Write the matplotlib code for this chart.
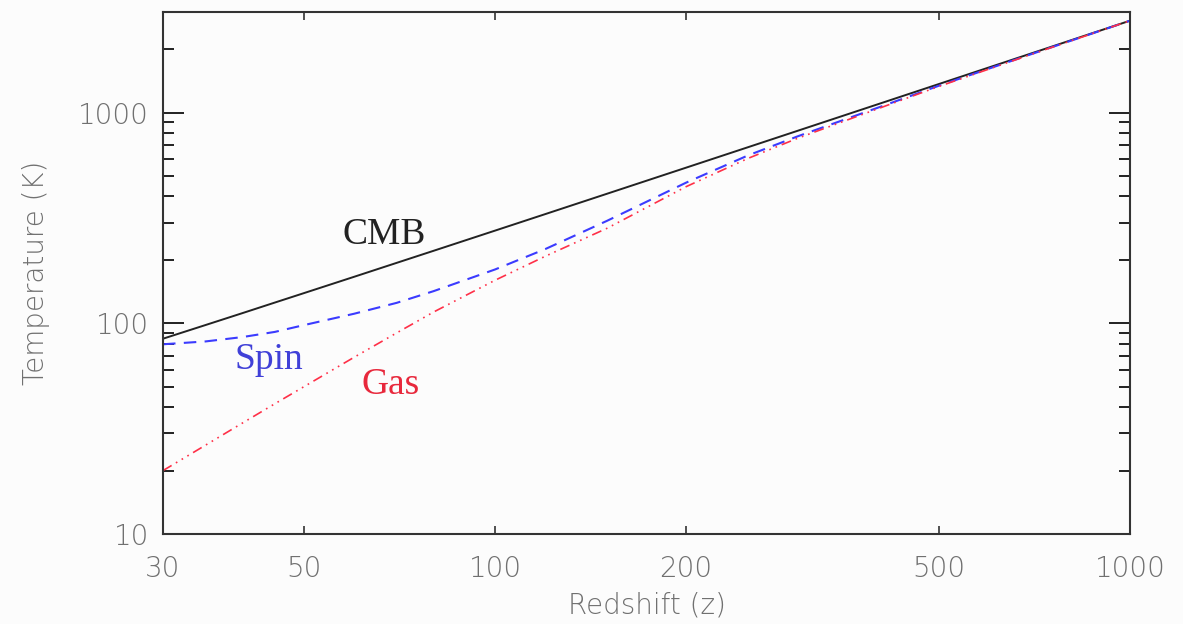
import matplotlib
matplotlib.use("Agg")
import matplotlib.pyplot as plt
from matplotlib.ticker import FixedLocator, NullFormatter, NullLocator, LogLocator

# Красное смещение и температуры (K)
redshift = [30, 35, 40, 45, 50, 60, 70, 80, 100, 120, 150, 200, 250, 300, 400, 500, 700, 1000]
t_cmb = [84.5, 98.1, 111.7, 125.4, 139.0, 166.2, 193.5, 220.7, 275.2, 329.7, 411.5, 547.7,
         683.9, 820.2, 1092.7, 1365.2, 1910.2, 2727.7]
t_spin = [79.5, 82, 86, 91, 98, 111, 125, 142, 180, 225, 306, 465,
          625, 772, 1052, 1340, 1895, 2727.7]
t_gas = [20, 26.4, 33.6, 41.5, 50, 69, 90, 113, 160, 208, 282, 445,
         605, 756, 1040, 1330, 1890, 2727.7]

x_ticks = [30, 50, 100, 200, 500, 1000]
x_ticklabels = ['30', '50', '100', '200', '500', '1000']
y_ticks = [10, 100, 1000]
y_ticklabels = ['10', '100', '1000']

fig = plt.figure(figsize=(11.83, 6.24), dpi=100)
fig.patch.set_facecolor('#fcfcfc')
ax = fig.add_axes([0.1378, 0.1442, 0.8174, 0.8366])
ax.set_facecolor('#fcfcfc')

ax.plot(redshift, t_cmb, color='#222222', lw=1.4, solid_capstyle='butt')
ax.plot(redshift, t_spin, color='#3b3bff', lw=1.5, dashes=(6, 4))
ax.plot(redshift, t_gas, color='#ff3048', lw=1.2, dashes=(6, 3, 1, 3, 1, 3, 1, 3))

ax.set_xscale('log')
ax.set_yscale('log')
ax.set_xlim(30, 1000)
ax.set_ylim(10, 3000)

ax.xaxis.set_major_locator(FixedLocator(x_ticks))
ax.set_xticklabels(x_ticklabels)
ax.xaxis.set_minor_locator(NullLocator())
ax.yaxis.set_major_locator(FixedLocator(y_ticks))
ax.set_yticklabels(y_ticklabels)
ax.yaxis.set_minor_locator(LogLocator(base=10, subs=range(2, 10), numticks=20))
ax.yaxis.set_minor_formatter(NullFormatter())

ax.tick_params(axis='x', which='major', direction='in', top=True, length=6, width=1.2,
               color='#333333', labelsize=20, labelcolor='#707070', pad=15)
ax.tick_params(axis='y', which='major', direction='in', right=True, length=15, width=1.4,
               color='#222222', labelsize=20, labelcolor='#707070', pad=10)
ax.tick_params(axis='y', which='minor', direction='in', right=True, length=8, width=1.4,
               color='#222222')
for lab in ax.get_xticklabels() + ax.get_yticklabels():
    lab.set_fontweight('light')

for s in ax.spines.values():
    s.set_color('#333333')
    s.set_linewidth(1.5)

ax.set_xlabel('Redshift (z)', fontsize=20, color='#707070', labelpad=6, fontweight='light')
ax.set_ylabel('Temperature (K)', fontsize=20, color='#707070', labelpad=20, fontweight='light')

ax.text(67, 239, 'CMB', family='Liberation Serif', fontsize=27, color='#222222',
        ha='center', va='baseline')
ax.text(44, 60.5, 'Spin', family='Liberation Serif', fontsize=27, color='#4040d8',
        ha='center', va='baseline')
ax.text(68.5, 46, 'Gas', family='Liberation Serif', fontsize=27, color='#e8283c',
        ha='center', va='baseline')

plt.savefig('out.png', dpi=100, facecolor=fig.get_facecolor())
